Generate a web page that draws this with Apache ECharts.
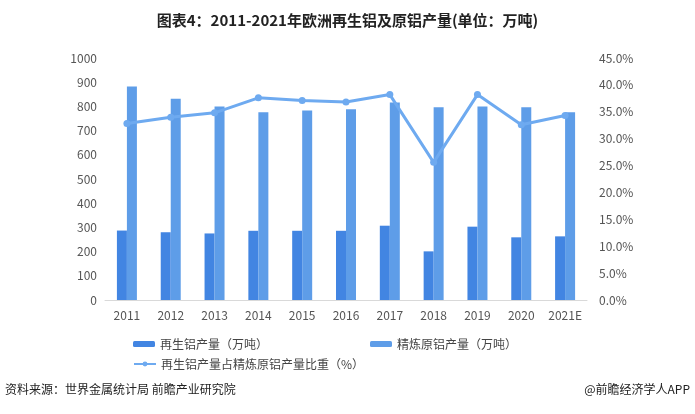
<!DOCTYPE html>
<html>
<head>
<meta charset="utf-8">
<script src="https://cdn.jsdelivr.net/npm/echarts@6/dist/echarts.min.js"></script>
<style>
html,body{margin:0;padding:0;background:#fff;}
#c{width:695px;height:414px;}
</style>
</head>
<body>
<div id="c"></div>
<script>
var categories = ['2011','2012','2013','2014','2015','2016','2017','2018','2019','2020','2021E'];
var recycled = [287, 280, 275, 286, 286, 286, 307, 201, 303, 259, 263];
var primary = [882, 832, 800, 776, 783, 788, 816, 797, 800, 797, 776];
var share = [32.8, 34.0, 34.8, 37.6, 37.1, 36.8, 38.2, 25.6, 38.2, 32.6, 34.3];
var leftTicks = [0, 1000, 100];
var rightTicks = [0, 45, 5];

var chart = echarts.init(document.getElementById('c'));
var font = '"Noto Sans CJK SC", "Noto Sans", sans-serif';
chart.setOption({
  animation: false,
  textStyle: {fontFamily: font},
  title: {
    text: '图表4：2011-2021年欧洲再生铝及原铝产量(单位：万吨)',
    left: 'center', top: 8,
    textStyle: {fontSize: 15, fontWeight: 'bold', color: '#222', fontFamily: font}
  },
  graphic: [
    {type: 'text', left: 5, top: 383, style: {text: '资料来源：世界金属统计局 前瞻产业研究院', fontSize: 12, fill: '#222', fontFamily: font}},
    {type: 'text', right: 5, top: 383, style: {text: '@前瞻经济学人APP', fontSize: 12, fill: '#222', fontFamily: font}}
  ],
  legend: [
    {
      data: ['再生铝产量（万吨）'], left: 128, top: 333, itemWidth: 22, itemHeight: 6, itemGap: 4,
      textStyle: {fontSize: 12, color: '#444'}
    },
    {
      data: ['精炼原铝产量（万吨）'], left: 365, top: 333, itemWidth: 22, itemHeight: 6,
      textStyle: {fontSize: 12, color: '#444'}
    },
    {
      data: ['再生铝产量占精炼原铝产量比重（%）'], left: 128, top: 353, itemWidth: 22, itemHeight: 6,
      textStyle: {fontSize: 12, color: '#444'}
    }
  ],
  grid: {left: 105, right: 108, top: 58, bottom: 114, containLabel: false},
  xAxis: {
    type: 'category', data: categories,
    axisLine: {lineStyle: {color: '#d9d9d9'}},
    axisTick: {show: false},
    axisLabel: {color: '#555', fontSize: 12, margin: 9, interval: 0}
  },
  yAxis: [
    {
      type: 'value', min: leftTicks[0], max: leftTicks[1], interval: leftTicks[2],
      splitLine: {show: false}, axisLine: {show: false}, axisTick: {show: false},
      axisLabel: {color: '#555', fontSize: 12, margin: 8, formatter: function(v){return String(v);}}
    },
    {
      type: 'value', min: rightTicks[0], max: rightTicks[1], interval: rightTicks[2],
      splitLine: {show: false}, axisLine: {show: false}, axisTick: {show: false},
      axisLabel: {color: '#555', fontSize: 12, margin: 12, formatter: function(v){return v.toFixed(1)+'%';}}
    }
  ],
  series: [
    {
      name: '再生铝产量（万吨）', type: 'bar', data: recycled, barWidth: 10, barGap: '0%',
      itemStyle: {color: '#4285e2'}
    },
    {
      name: '精炼原铝产量（万吨）', type: 'bar', data: primary, barWidth: 10,
      itemStyle: {color: '#5e9de8'}
    },
    {
      name: '再生铝产量占精炼原铝产量比重（%）', type: 'line', yAxisIndex: 1, data: share,
      symbol: 'circle', symbolSize: 7,
      lineStyle: {color: '#6eaaf0', width: 3},
      itemStyle: {color: '#6eaaf0'}
    }
  ]
});
</script>
</body>
</html>
